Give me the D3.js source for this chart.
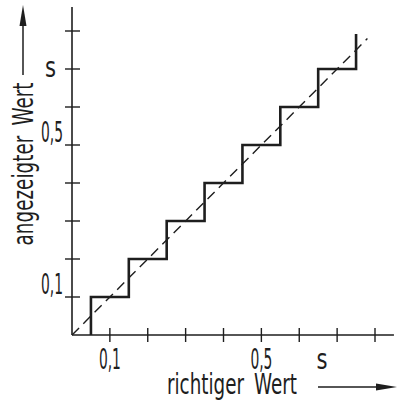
<!DOCTYPE html>
<html>
<head>
<meta charset="utf-8">
<script src="https://cdn.jsdelivr.net/npm/d3@7"></script>
<style>
  html, body { margin: 0; padding: 0; background: #fff; }
  svg { display: block; }
</style>
</head>
<body>
<div id="chart"></div>
<script>
// tick positions (in units of the grid) and the labels written at them
const xTicks = [1, 2, 3, 4, 5, 6, 7, 8];
const yTicks = [1, 2, 3, 4, 5, 6, 7, 8];
const xLabels = [{ v: 1, t: "0,1" }, { v: 5, t: "0,5" }, { v: 6.6, t: "s" }];
const yLabels = [{ v: 1, t: "0,1" }, { v: 5, t: "0,5" }, { v: 7, t: "s" }];

// staircase of the displayed value: [richtiger Wert, angezeigter Wert]
const steps = [
  [0.5, 0], [0.5, 1], [1.5, 1], [1.5, 2], [2.5, 2], [2.5, 3], [3.5, 3], [3.5, 4],
  [4.5, 4], [4.5, 5], [5.5, 5], [5.5, 6], [6.5, 6], [6.5, 7], [7.5, 7], [7.5, 7.92]
];
// ideal line
const ideal = [[0, 0], [7.8, 7.8]];

const width = 400, height = 401;
const ink = "#1e1e1e";
const font = "'DejaVu Sans Condensed','Liberation Sans Narrow','Liberation Sans',sans-serif";
const fs = 29;

const x = d3.scaleLinear().domain([0, 8]).range([72, 375]);
const y = d3.scaleLinear().domain([0, 8]).range([335, 31]);

const svg = d3.select("#chart").append("svg")
    .attr("width", width)
    .attr("height", height)
    .attr("viewBox", [0, 0, width, height]);

// axes
svg.append("line")
    .attr("x1", x(0)).attr("x2", x(8.5))
    .attr("y1", y(0)).attr("y2", y(0))
    .attr("stroke", ink).attr("stroke-width", 1.6);
svg.append("line")
    .attr("x1", x(0)).attr("x2", x(0))
    .attr("y1", y(0)).attr("y2", y(8.63))
    .attr("stroke", ink).attr("stroke-width", 1.6);

// ticks cross the axis lines
svg.append("g").selectAll("line")
  .data(xTicks)
  .join("line")
    .attr("x1", d => x(d)).attr("x2", d => x(d))
    .attr("y1", y(0) - 7).attr("y2", y(0) + 7)
    .attr("stroke", ink).attr("stroke-width", 1.4);
svg.append("g").selectAll("line")
  .data(yTicks)
  .join("line")
    .attr("x1", x(0) - 7).attr("x2", x(0) + 8)
    .attr("y1", d => y(d)).attr("y2", d => y(d))
    .attr("stroke", ink).attr("stroke-width", 1.4);

// tick labels
const tl = (t) => (t === "s" ? 11 : 22);
svg.append("g").selectAll("text")
  .data(xLabels)
  .join("text")
    .attr("x", d => x(d.v))
    .attr("y", 369)
    .attr("text-anchor", "middle")
    .attr("textLength", d => tl(d.t))
    .attr("lengthAdjust", "spacingAndGlyphs")
    .style("font", `${fs}px ${font}`)
    .attr("fill", ink)
    .text(d => d.t);
svg.append("g").selectAll("text")
  .data(yLabels)
  .join("text")
    .attr("x", d => d.t === "s" ? 56 : 63)
    .attr("y", d => y(d.v) + (d.t === "s" ? 8 : -3))
    .attr("text-anchor", "end")
    .attr("textLength", d => tl(d.t))
    .attr("lengthAdjust", "spacingAndGlyphs")
    .style("font", `${fs}px ${font}`)
    .attr("fill", ink)
    .text(d => d.t);

// dashed ideal line
const line = d3.line().x(d => x(d[0])).y(d => y(d[1]));
svg.append("path")
    .attr("d", line(ideal))
    .attr("fill", "none")
    .attr("stroke", ink)
    .attr("stroke-width", 1.4)
    .attr("stroke-dasharray", "10,6");

// staircase
svg.append("path")
    .attr("d", line(steps))
    .attr("fill", "none")
    .attr("stroke", ink)
    .attr("stroke-width", 2.6)
    .attr("stroke-linejoin", "miter");

// axis titles with arrows
svg.append("text")
    .attr("transform", "translate(33,164) rotate(-90)")
    .attr("text-anchor", "middle")
    .attr("textLength", 163)
    .attr("lengthAdjust", "spacingAndGlyphs")
    .style("font", `${fs}px ${font}`)
    .style("word-spacing", "6px")
    .attr("fill", ink)
    .text("angezeigter Wert");
svg.append("line")
    .attr("x1", 23).attr("x2", 23).attr("y1", 75).attr("y2", 22)
    .attr("stroke", ink).attr("stroke-width", 1.5);
svg.append("path")
    .attr("d", "M23,5 L26.5,26 L19.5,26 Z")
    .attr("fill", ink);

svg.append("text")
    .attr("x", 167)
    .attr("y", 394)
    .attr("textLength", 130)
    .attr("lengthAdjust", "spacingAndGlyphs")
    .style("font", `${fs}px ${font}`)
    .style("word-spacing", "6px")
    .attr("fill", ink)
    .text("richtiger Wert");
svg.append("line")
    .attr("x1", 318).attr("x2", 378).attr("y1", 387).attr("y2", 387)
    .attr("stroke", ink).attr("stroke-width", 1.5);
svg.append("path")
    .attr("d", "M397,387 L376,383.5 L376,390.5 Z")
    .attr("fill", ink);
</script>
</body>
</html>
